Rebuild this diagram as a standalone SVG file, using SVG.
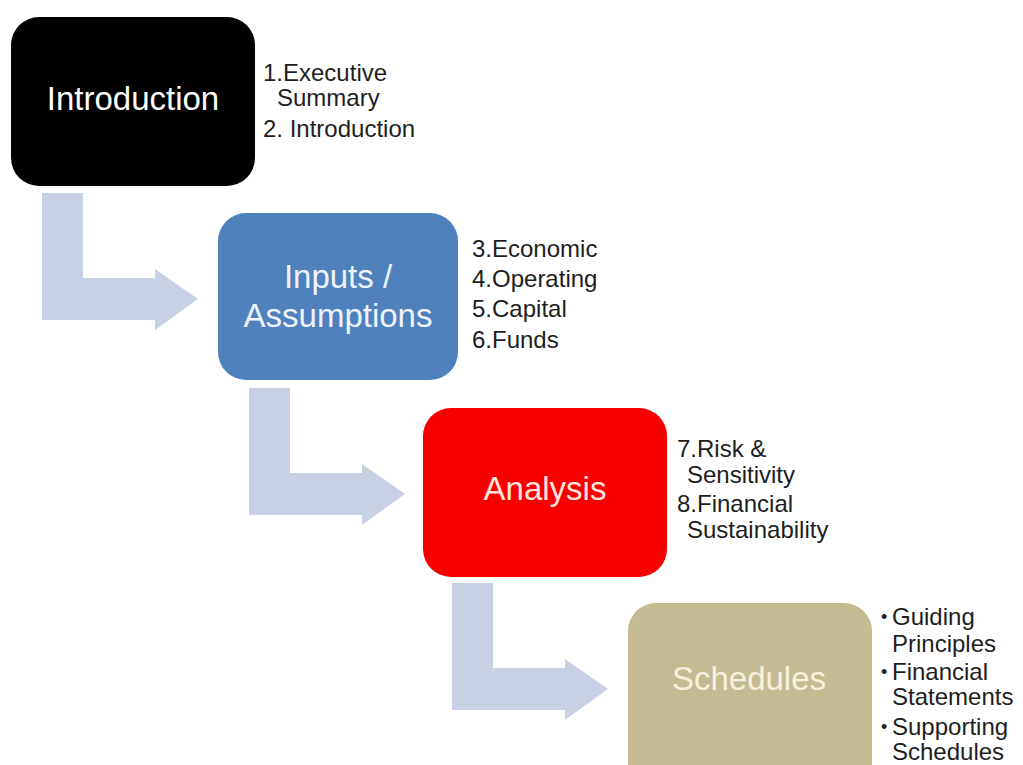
<svg xmlns="http://www.w3.org/2000/svg" width="1023" height="765" viewBox="0 0 1023 765">
<defs>
<style>
.box-text{font-family:"Liberation Sans",Arial,sans-serif;font-size:33px;text-anchor:middle}
.side{font-family:"Liberation Sans",Arial,sans-serif;font-size:24px;fill:#1e1e1e}
.bullet{font-family:"Liberation Sans",Arial,sans-serif;font-size:18px;fill:#1e1e1e}
.arrow{fill:#c8d1e3}
</style>
<path id="bent" d="M42,193 H83 V278 H155 V269 L198,299 L155,330 V320 H42 Z"/>
</defs>
<rect width="1023" height="765" fill="#ffffff"/>
<g id="connectors">
<use href="#bent" class="arrow"/>
<use href="#bent" class="arrow" transform="translate(207,195)"/>
<use href="#bent" class="arrow" transform="translate(410,390)"/>
</g>
<g id="introduction">
<rect x="11" y="17" width="244" height="169" rx="28" fill="#000000"/>
<text class="box-text" x="133" y="110" fill="#ffffff">Introduction</text>
<text class="side" x="263" y="81">1.Executive</text>
<text class="side" x="277" y="106">Summary</text>
<text class="side" x="263" y="137">2. Introduction</text>
</g>
<g id="inputs">
<rect x="218" y="213" width="240" height="167" rx="28" fill="#4f81bd"/>
<text class="box-text" x="338" y="288" fill="#eef3fb">Inputs /</text>
<text class="box-text" x="338" y="327" fill="#eef3fb">Assumptions</text>
<text class="side" x="472" y="257">3.Economic</text>
<text class="side" x="472" y="287">4.Operating</text>
<text class="side" x="472" y="317">5.Capital</text>
<text class="side" x="472" y="348">6.Funds</text>
</g>
<g id="analysis">
<rect x="423" y="408" width="244" height="169" rx="28" fill="#f60000"/>
<text class="box-text" x="545" y="500" fill="#ffe4dc">Analysis</text>
<text class="side" x="677" y="457">7.Risk &amp;</text>
<text class="side" x="687" y="483">Sensitivity</text>
<text class="side" x="677" y="512">8.Financial</text>
<text class="side" x="687" y="538">Sustainability</text>
</g>
<g id="schedules">
<rect x="628" y="603" width="244" height="190" rx="28" fill="#c4bb93"/>
<text class="box-text" x="749" y="690" fill="#f7f2df">Schedules</text>
<text class="bullet" x="881" y="623">•</text>
<text class="side" x="892" y="625">Guiding</text>
<text class="side" x="892" y="652">Principles</text>
<text class="bullet" x="881" y="678">•</text>
<text class="side" x="892" y="680">Financial</text>
<text class="side" x="892" y="705">Statements</text>
<text class="bullet" x="881" y="733">•</text>
<text class="side" x="892" y="735">Supporting</text>
<text class="side" x="892" y="760">Schedules</text>
</g>
</svg>
